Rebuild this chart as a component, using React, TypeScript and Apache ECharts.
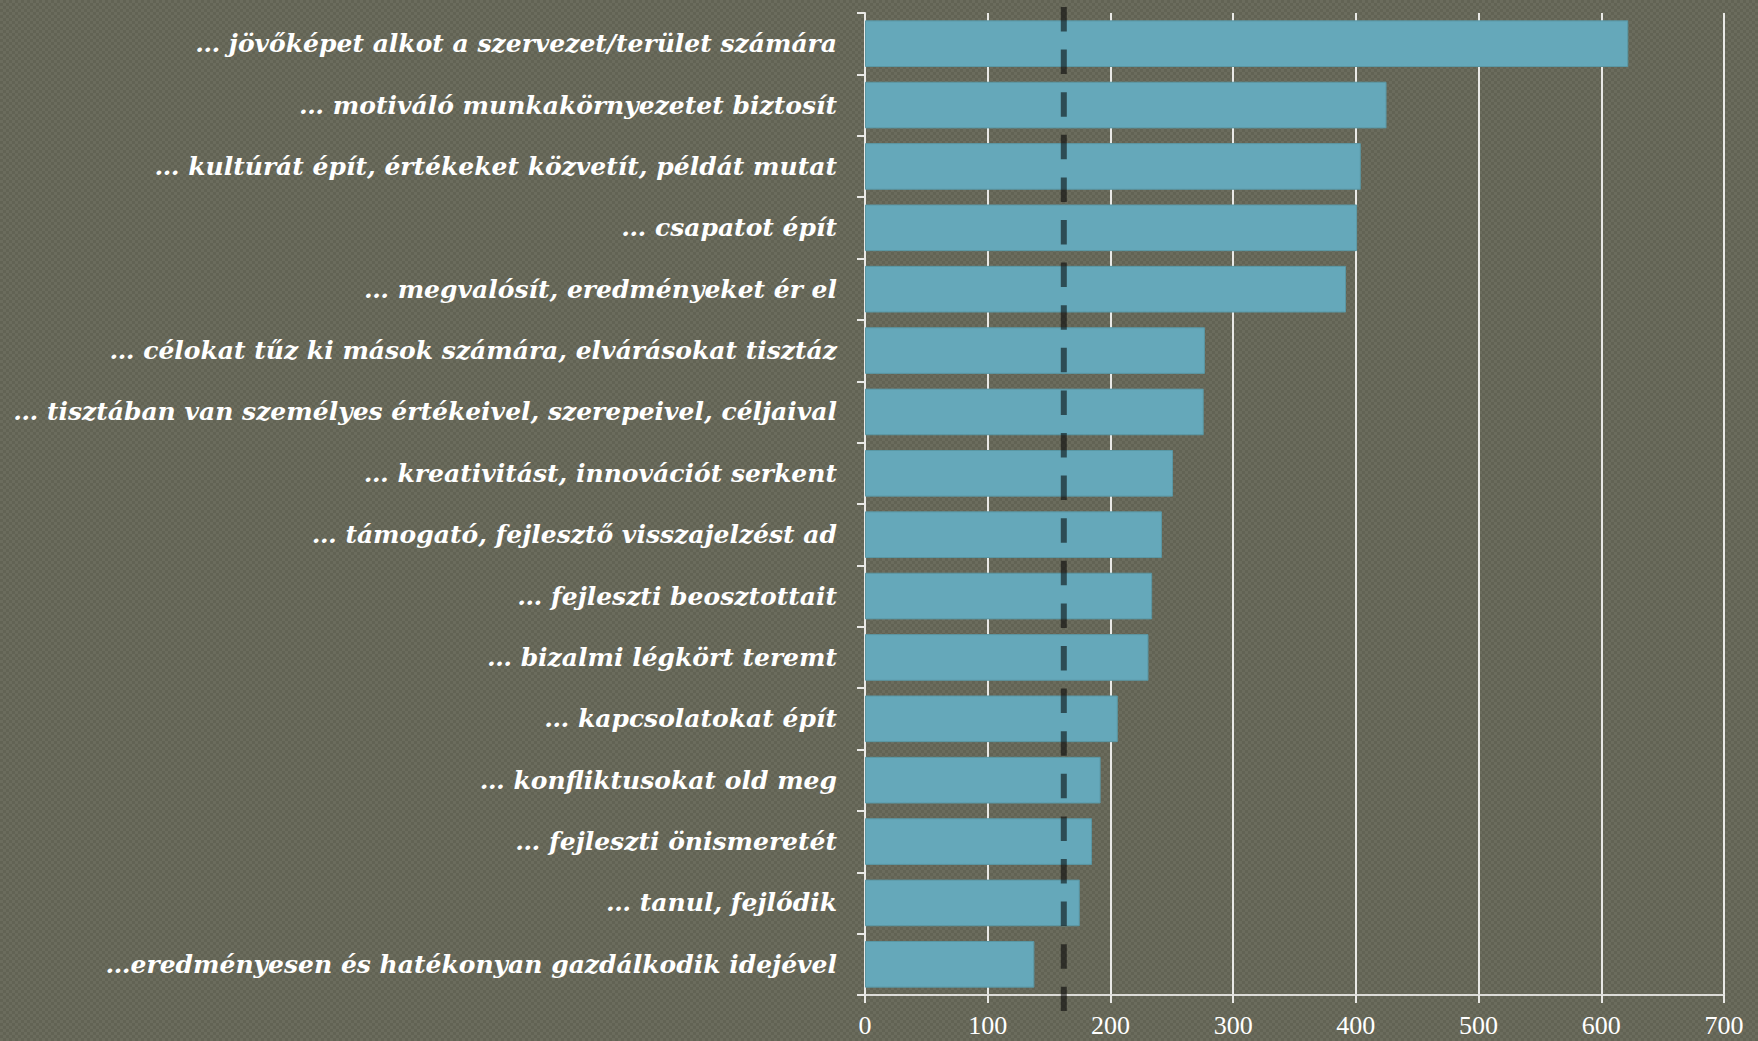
import React, { useEffect, useRef } from "react";
import * as echarts from "echarts";

const categories = [
  "… jövőképet alkot a szervezet/terület számára",
  "… motiváló munkakörnyezetet biztosít",
  "… kultúrát épít, értékeket közvetít, példát mutat",
  "… csapatot épít",
  "… megvalósít, eredményeket ér el",
  "… célokat tűz ki mások számára, elvárásokat tisztáz",
  "… tisztában van személyes értékeivel, szerepeivel, céljaival",
  "… kreativitást, innovációt serkent",
  "… támogató, fejlesztő visszajelzést ad",
  "… fejleszti beosztottait",
  "… bizalmi légkört teremt",
  "… kapcsolatokat épít",
  "… konfliktusokat old meg",
  "… fejleszti önismeretét",
  "… tanul, fejlődik",
  "…eredményesen és hatékonyan gazdálkodik idejével",
];

const values = [622, 425, 404, 401, 392, 277, 276, 251, 242, 234, 231, 206, 192, 185, 175, 138];

const referenceValue = 162;
const referenceLine = [
  [referenceValue, 1],
  [referenceValue, 0],
];

const xTicks = { min: 0, max: 700, interval: 100 };

export default function App() {
  const ref = useRef<HTMLDivElement>(null);

  useEffect(() => {
    if (!ref.current) return;
    const chart = echarts.init(ref.current, undefined, { renderer: "svg" });
    const white = "#e9e9e6";
    chart.setOption({
      animation: false,
      backgroundColor: "transparent",
      grid: [
        { left: 865, right: 34, top: 13, bottom: 46, containLabel: false },
        { left: 865, right: 34, top: 7, bottom: 30, containLabel: false },
      ],
      xAxis: [
        {
          type: "value",
          gridIndex: 0,
          min: xTicks.min,
          max: xTicks.max,
          interval: xTicks.interval,
          axisLine: { show: true, lineStyle: { color: "#dcdcd8", width: 2 } },
          axisTick: { show: true, length: 8, lineStyle: { color: white, width: 2 } },
          splitLine: { show: true, lineStyle: { color: white, width: 2 } },
          axisLabel: {
            color: "#ffffff",
            fontFamily: "Liberation Serif",
            fontSize: 26,
            margin: 17,
          },
        },
        {
          type: "value",
          gridIndex: 1,
          min: xTicks.min,
          max: xTicks.max,
          show: false,
        },
      ],
      yAxis: [
        {
          type: "category",
          gridIndex: 0,
          data: categories,
          inverse: true,
          axisLine: { show: true, lineStyle: { color: white, width: 2 } },
          axisTick: { show: true, length: 8, interval: 0, lineStyle: { color: white, width: 2 } },
          splitLine: { show: false },
          axisLabel: {
            color: "#ffffff",
            fontFamily: "DejaVu Serif",
            fontStyle: "italic",
            fontWeight: "bold",
            fontSize: 25,
            margin: 28,
            interval: 0,
          },
        },
        {
          type: "value",
          gridIndex: 1,
          min: 0,
          max: 1,
          show: false,
        },
      ],
      series: [
        {
          type: "bar",
          xAxisIndex: 0,
          yAxisIndex: 0,
          data: values,
          barCategoryGap: "24%",
          itemStyle: { color: "#65a8ba", borderColor: "#5a97a4", borderWidth: 1 },
          z: 2,
        },
        {
          type: "line",
          xAxisIndex: 1,
          yAxisIndex: 1,
          data: referenceLine,
          symbol: "none",
          lineStyle: { color: "rgba(0,0,0,0.55)", width: 6, type: [24.5, 18.1], cap: "butt" },
          z: 5,
        },
      ],
    });
    return () => chart.dispose();
  }, []);

  return (
    <div
      style={{
        position: "fixed",
        left: 0,
        top: 0,
        width: 1758,
        height: 1041,
        backgroundColor: "#666758",
        backgroundImage: "repeating-conic-gradient(#626354 0% 25%, #6b6c5d 0% 50%)",
        backgroundSize: "6px 6px",
      }}
    >
      <div ref={ref} style={{ width: 1758, height: 1041 }} />
    </div>
  );
}
